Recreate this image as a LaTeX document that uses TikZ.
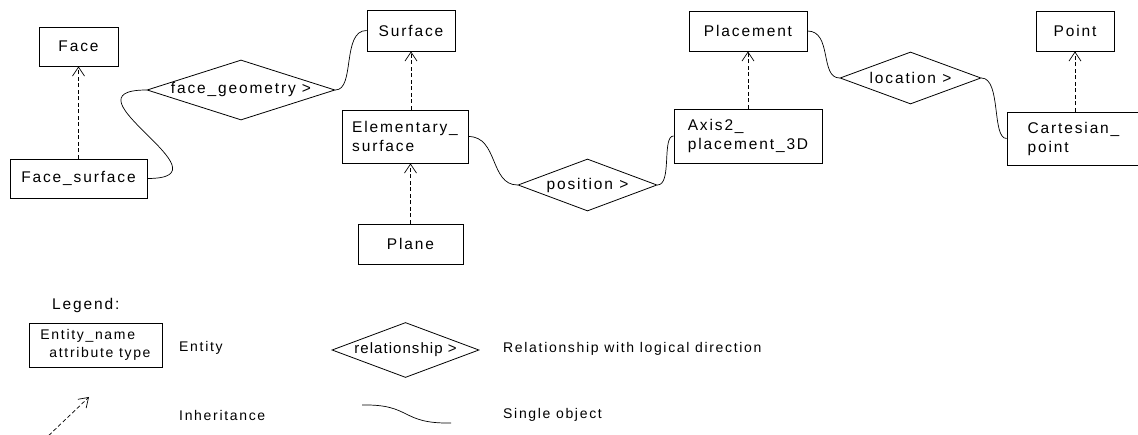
\documentclass[tikz,border=0pt]{standalone}
\usepackage{fontspec}
\setmainfont{Liberation Sans}[LetterSpace=12]
\usetikzlibrary{shapes.geometric,arrows.meta}
\newcommand\dfont{\fontsize{15.5}{19}\selectfont}
\newcommand\lfont{\fontsize{14}{18}\selectfont}
\newcommand\rfont{\fontsize{15}{18}\selectfont\addfontfeatures{LetterSpace=7}}
\tikzset{
  ent/.style={draw, line width=0.9pt, rectangle, inner sep=0pt, align=left, font=\dfont},
  rel/.style={draw, line width=0.8pt, diamond, inner sep=0pt, font=\dfont},
  conn/.style={line width=0.7pt},
  inh/.style={line width=0.7pt, dash pattern=on 4pt off 2.5pt, -{Straight Barb[length=9pt,width=12pt,line width=0.7pt]}},
  lab/.style={anchor=west, inner sep=0pt, font=\lfont}
}
\begin{document}
\begin{tikzpicture}[x=1pt,y=-1pt]
\useasboundingbox (0,0) rectangle (1138,435);
% entities
\node[ent, minimum width=79pt, minimum height=39pt] (face) at (78.5,46.5) {Face};
\node[ent, minimum width=137pt, minimum height=39pt] (fs) at (78.5,178.5) {Face\_surface};
\node[ent, minimum width=88pt, minimum height=41pt] (surf) at (411,30.5) {Surface};
\node[ent, minimum width=126pt, minimum height=53pt] (es) at (405,136.5) {Elementary\_\\surface};
\node[ent, minimum width=105pt, minimum height=40pt] (plane) at (410.5,244) {Plane};
\node[ent, minimum width=118pt, minimum height=40pt] (pl) at (748,31) {Placement};
\node[ent, minimum width=148pt, minimum height=54pt] (ax) at (748,136) {Axis2\_\\placement\_3D};
\node[ent, minimum width=78pt, minimum height=40pt] (pt) at (1075,31) {Point};
\node[ent, minimum width=133pt, minimum height=53pt] (cp) at (1073.5,138.5) {Cartesian\_\\point};
% relationships
\node[rel, aspect=3.1, minimum width=188pt, minimum height=60pt] (fg) at (241,90) {face\_geometry >};
\node[rel, aspect=2.7, minimum width=139pt, minimum height=52pt] (pos) at (587.5,185) {position >};
\node[rel, aspect=2.7, minimum width=141pt, minimum height=52pt] (loc) at (910.5,78) {location >};
% inheritance
\draw[inh] (fs.north) -- (face.south);
\draw[inh] (surf.south |- es.north) -- (surf.south);
\draw[inh] (plane.north) -- (plane.north |- es.south);
\draw[inh] (ax.north) -- (pl.south);
\draw[inh] (pt.south |- cp.north) -- (pt.south);
% single object connectors
\draw[conn] (fs.east) .. controls +(88,0) and +(-89,0) .. (fg.west);
\draw[conn] (fg.east) .. controls +(20,0) and +(-25,0) .. (surf.west);
\draw[conn] (es.east) .. controls +(30,0) and +(-28,0) .. (pos.west);
\draw[conn] (pos.east) .. controls +(15,0) and +(-12,0) .. (ax.west);
\draw[conn] (pl.east) .. controls +(25,0) and +(-20,0) .. (loc.west);
\draw[conn] (loc.east) .. controls +(20,0) and +(-15,0) .. (cp.west);
% legend
\node[lab, font=\dfont] (lg) at (52,305) {Legend:};
\node[ent, font=\lfont, minimum width=133pt, minimum height=44pt] (le) at (95.5,345) {Entity\_name\\\hspace*{9pt}attribute type};
\node[lab] (lent) at (179,348) {Entity};
\node[rel, font=\rfont, aspect=2.67, minimum width=147pt, minimum height=55pt] (lrel) at (405.5,350) {relationship >};
\node[lab] (lreltxt) at (503,349) {Relationship with logical direction};
\coordinate (ia) at (44,440);
\coordinate (ib) at (89,397);
\draw[inh] (ia) -- (ib);
\node[lab] (linh) at (179,415) {Inheritance};
\coordinate (sa) at (362,405);
\coordinate (sb) at (451,423);
\draw[conn] (sa) .. controls (412,404) and (400,424) .. (sb);
\node[lab] (lso) at (503,415) {Single object};
\end{tikzpicture}
\end{document}
